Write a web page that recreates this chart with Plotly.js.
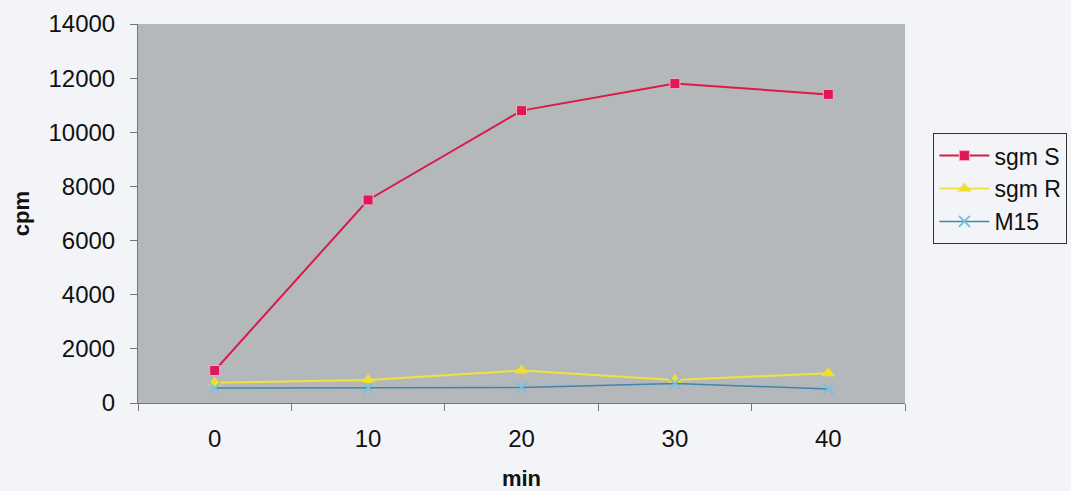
<!DOCTYPE html>
<html><head><meta charset="utf-8">
<script src="https://cdn.plot.ly/plotly-3.0.1.min.js"></script>
<style>html,body{margin:0;padding:0;background:#f3f4f8;}#chart{width:1071px;height:491px;}</style>
</head><body><div id="chart"></div>
<script>
var categories = ["0", "10", "20", "30", "40"];
var sgmS = [1200, 7500, 10800, 11800, 11400];
var sgmR = [750, 850, 1200, 850, 1100];
var m15 = [550, 550, 570, 720, 520];
var yTicks = [0, 2000, 4000, 6000, 8000, 10000, 12000, 14000];

var traces = [
  {x: categories, y: sgmS, name: "sgm S", type: "scatter", mode: "lines+markers",
   line: {color: "#d81b4a", width: 2}, marker: {symbol: "square", size: 10, color: "#e0185a", line: {color: "#f0b0c0", width: 1}}},
  {x: categories, y: sgmR, name: "sgm R", type: "scatter", mode: "lines+markers",
   line: {color: "#f2e23c", width: 2}, marker: {symbol: "triangle-up", size: 12, color: "#f0de30"}},
  {x: categories, y: m15, name: "M15", type: "scatter", mode: "lines+markers",
   line: {color: "#3f86ad", width: 1.5}, marker: {symbol: "x-thin", size: 11, line: {color: "#7cc0e0", width: 2}}}
];

var layout = {
  width: 1071, height: 491,
  margin: {l: 138, r: 166, t: 24, b: 88, autoexpand: false},
  paper_bgcolor: "#f3f4f8",
  plot_bgcolor: "#b5b8bb",
  font: {family: "Liberation Sans, Arial, sans-serif", color: "#111", size: 24},
  showlegend: true,
  legend: {x: 1.037, xanchor: "left", y: 0.712, yanchor: "top",
    bordercolor: "#333", borderwidth: 1, bgcolor: "rgba(0,0,0,0)",
    font: {size: 23}, tracegroupgap: 0, itemwidth: 50},
  xaxis: {
    type: "category", range: [-0.5, 4.5], tickson: "boundaries",
    showgrid: false, zeroline: false, showline: true, linecolor: "#777", linewidth: 1,
    ticks: "outside", ticklen: 7, tickcolor: "#777",
    tickfont: {size: 24}, ticklabelstandoff: 14,
    title: {text: "<b>min</b>", font: {size: 22}, standoff: 20}
  },
  yaxis: {
    range: [0, 14000], tickvals: yTicks, ticktext: yTicks.map(String),
    showgrid: false, zeroline: false, showline: true, linecolor: "#777", linewidth: 1,
    ticks: "outside", ticklen: 7, tickcolor: "#777",
    tickfont: {size: 24}, ticklabelstandoff: 10,
    title: {text: "<b>cpm</b>", font: {size: 22}, standoff: 12}
  }
};
Plotly.newPlot("chart", traces, layout, {displayModeBar: false, staticPlot: true});
</script></body></html>
